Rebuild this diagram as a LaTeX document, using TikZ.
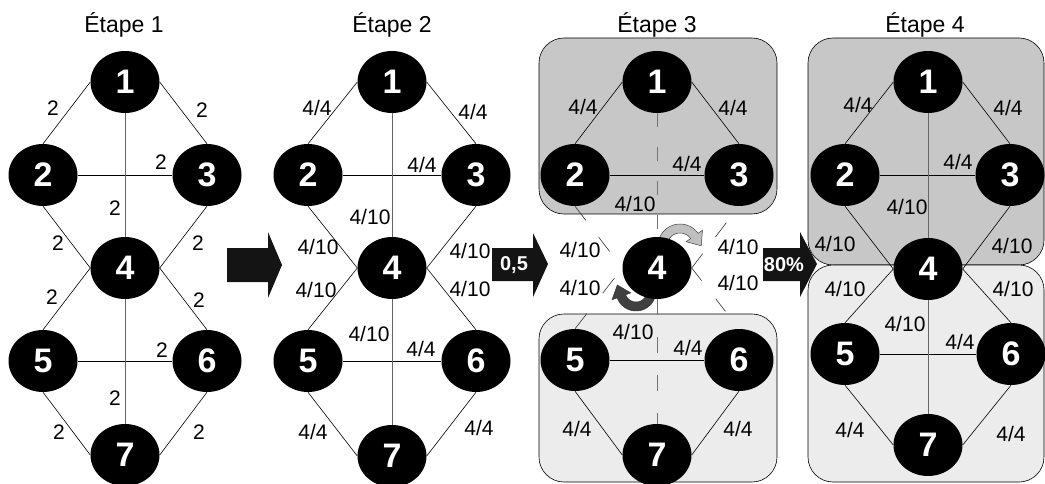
\documentclass[tikz,border=0pt]{standalone}
\usepackage{fontspec}
\setmainfont{Liberation Sans}
\usetikzlibrary{shapes.geometric,backgrounds}
\definecolor{topgray}{RGB}{199,199,199}
\definecolor{botgray}{RGB}{236,236,236}
\definecolor{darkarr}{RGB}{64,64,64}
\definecolor{lightarr}{RGB}{192,192,192}
\tikzset{
 vnode/.style={ellipse, fill=black, minimum width=69pt, minimum height=62pt, inner sep=0pt, text=white, font=\fontsize{34}{34}\selectfont\bfseries},
 edge/.style={draw=black, line width=0.6pt},
 vedge/.style={draw=black!60, line width=0.9pt},
 dedge/.style={draw=black!80, line width=0.6pt},
 vdedge/.style={draw=black!55, line width=0.9pt},
 lbl/.style={font=\fontsize{21}{21}\selectfont, inner sep=0pt},
 ttl/.style={font=\fontsize{23}{23}\selectfont, inner sep=0pt, anchor=base},
 grp/.style={rounded corners=25pt, draw=black, line width=0.6pt},
 blockarrow/.style={fill=black!92},
 arrtext/.style={text=white, font=\fontsize{20}{20}\selectfont\bfseries, inner sep=0pt},
}
\newcommand{\stageedges}[1]{%
 \draw[edge] (#11.west) -- (#12.north);
 \draw[edge] (#11.east) -- (#13.north);
 \draw[edge] (#12.east) -- (#13.west);
 \draw[edge] (#12.south) -- (#14.west);
 \draw[edge] (#13.south) -- (#14.east);
 \draw[edge] (#14.west) -- (#15.north);
 \draw[edge] (#14.east) -- (#16.north);
 \draw[edge] (#15.east) -- (#16.west);
 \draw[edge] (#15.south) -- (#17.west);
 \draw[edge] (#16.south) -- (#17.east);
 \draw[vedge] (#11.south) -- (#14.north);
 \draw[vedge] (#14.south) -- (#17.north);
}
\begin{document}
\begin{tikzpicture}[x=1pt,y=-1pt]
\clip (0,0) rectangle (1045,484);

% titles
\node[ttl] (t1) at (124,33) {Étape 1};
\node[ttl] (t2) at (392,33) {Étape 2};
\node[ttl] (t3) at (657,33) {Étape 3};
\node[ttl] (t4) at (925,33) {Étape 4};

% stage 1 nodes
\node[vnode] (a1) at (125,82) {1};
\node[vnode] (a2) at (43,175) {2};
\node[vnode] (a3) at (207,175) {3};
\node[vnode] (a4) at (125,268) {4};
\node[vnode] (a5) at (43,361) {5};
\node[vnode] (a6) at (207,361) {6};
\node[vnode] (a7) at (125,455) {7};
% stage 2 nodes
\node[vnode] (b1) at (392,82) {1};
\node[vnode] (b2) at (308,175) {2};
\node[vnode] (b3) at (476,175) {3};
\node[vnode] (b4) at (392,268) {4};
\node[vnode] (b5) at (308,361) {5};
\node[vnode] (b6) at (476,361) {6};
\node[vnode] (b7) at (392,456) {7};
% stage 3 nodes
\node[vnode] (c1) at (657,82) {1};
\node[vnode] (c2) at (575,175) {2};
\node[vnode] (c3) at (739,175) {3};
\node[vnode] (c4) at (657,268) {4};
\node[vnode] (c5) at (575,360) {5};
\node[vnode] (c6) at (739,360) {6};
\node[vnode] (c7) at (657,455) {7};
% stage 4 nodes
\node[vnode] (d1) at (928,82) {1};
\node[vnode] (d2) at (845,175) {2};
\node[vnode] (d3) at (1010,175) {3};
\node[vnode] (d4) at (928,269) {4};
\node[vnode] (d5) at (845,354) {5};
\node[vnode] (d6) at (1011,354) {6};
\node[vnode] (d7) at (928,445) {7};

% background: groups and rotation arrows
\begin{scope}[on background layer]
 \fill[white] (0,0) rectangle (1045,484);
 \draw[grp, fill=topgray] (539,38) rectangle (777,214);
 \draw[grp, fill=botgray] (539,314) rectangle (777,482);
 \draw[grp, fill=topgray] (808,38) rectangle (1044,265);
 \draw[grp, fill=botgray] (808,265) rectangle (1044,482);
 % light rotation arrow
 \filldraw[fill=lightarr, draw=black!75, line width=0.5pt]
   plot[domain=200:325, samples=25] ({680+22*cos(\x)},{246+22*sin(\x)})
   -- (702.5,230.2) -- (701.2,245.8) -- (686.1,241.7)
   -- plot[domain=325:200, samples=25] ({680+13*cos(\x)},{246+13*sin(\x)}) -- cycle;
 % dark rotation arrow
 \filldraw[fill=darkarr, draw=black!80, line width=0.5pt]
   plot[domain=10:160, samples=25] ({636+20*cos(\x)},{291+20*sin(\x)})
   -- (612.0,299.7) -- (617.3,285.0) -- (630.8,292.9)
   -- plot[domain=160:10, samples=25] ({636+11*cos(\x)},{291+11*sin(\x)}) -- cycle;
\end{scope}

% edges
\stageedges{a}
\stageedges{b}
\stageedges{d}
% stage 3 edges
\draw[edge] (c1.west) -- (c2.north);
\draw[edge] (c1.east) -- (c3.north);
\draw[edge] (c2.east) -- (c3.west);
\draw[edge] (c5.east) -- (c6.west);
\draw[edge] (c5.south) -- (c7.west);
\draw[edge] (c6.south) -- (c7.east);
\draw[dedge, dash pattern=on 18pt off 21pt] (c2.south) -- (c4.west);
\draw[dedge, dash pattern=on 18pt off 21pt] (c4.east) -- (c3.south);
\draw[dedge, dash pattern=on 19pt off 26pt] (c5.north) -- (c4.west);
\draw[dedge, dash pattern=on 16pt off 23pt] (c4.east) -- (c6.north);
\draw[vdedge, dash pattern=on 14pt off 20pt] (c1.south) -- (c4.north);
\draw[vdedge, dash pattern=on 16pt off 22pt] (c4.south) -- (c7.north);

% block arrows
\fill[blockarrow] (227,248) -- (268,248) -- (268,232) -- (282,265) -- (268,298) -- (268,282) -- (227,282) -- cycle;
\fill[blockarrow] (492,248) -- (533,248) -- (533,233) -- (548,264) -- (533,297) -- (533,281) -- (492,281) -- cycle;
\node[arrtext] (r1) at (514,265) {0,5};
\fill[blockarrow] (763,248) -- (800,248) -- (800,232) -- (817,264) -- (800,297) -- (800,281) -- (763,281) -- cycle;
\node[arrtext] (r2) at (784,265) {80\%};

% stage 1 labels
\node[lbl] (la1) at (53,108) {2};
\node[lbl] (la2) at (202,110) {2};
\node[lbl] (la3) at (161,162) {2};
\node[lbl] (la4) at (115,208) {2};
\node[lbl] (la5) at (58,243) {2};
\node[lbl] (la6) at (198,243) {2};
\node[lbl] (la7) at (52,297) {2};
\node[lbl] (la8) at (199,300) {2};
\node[lbl] (la9) at (162,350) {2};
\node[lbl] (la10) at (115,398) {2};
\node[lbl] (la11) at (59,432) {2};
\node[lbl] (la12) at (199,432) {2};
% stage 2 labels
\node[lbl] (lb1) at (317,108) {4/4};
\node[lbl] (lb2) at (473,112) {4/4};
\node[lbl] (lb3) at (422,165) {4/4};
\node[lbl] (lb4) at (370,217) {4/10};
\node[lbl] (lb5) at (318,247) {4/10};
\node[lbl] (lb6) at (470,251) {4/10};
\node[lbl] (lb7) at (316,290) {4/10};
\node[lbl] (lb8) at (470,289) {4/10};
\node[lbl] (lb9) at (369,334) {4/10};
\node[lbl] (lb10) at (421,349) {4/4};
\node[lbl] (lb11) at (313,432) {4/4};
\node[lbl] (lb12) at (479,428) {4/4};
% stage 3 labels
\node[lbl] (lc1) at (583,107) {4/4};
\node[lbl] (lc2) at (733,108) {4/4};
\node[lbl] (lc3) at (687,164) {4/4};
\node[lbl] (lc4) at (635,204) {4/10};
\node[lbl] (lc5) at (580,250) {4/10};
\node[lbl] (lc6) at (580,288) {4/10};
\node[lbl] (lc7) at (738,247) {4/10};
\node[lbl] (lc8) at (738,283) {4/10};
\node[lbl] (lc9) at (633,332) {4/10};
\node[lbl] (lc10) at (688,348) {4/4};
\node[lbl] (lc11) at (577,429) {4/4};
\node[lbl] (lc12) at (738,429) {4/4};
% stage 4 labels
\node[lbl] (ld1) at (858,105) {4/4};
\node[lbl] (ld2) at (1008,108) {4/4};
\node[lbl] (ld3) at (958,162) {4/4};
\node[lbl] (ld4) at (907,207) {4/10};
\node[lbl] (ld5) at (835,244) {4/10};
\node[lbl] (ld6) at (1012,246) {4/10};
\node[lbl] (ld7) at (845,289) {4/10};
\node[lbl] (ld8) at (1013,289) {4/10};
\node[lbl] (ld9) at (905,324) {4/10};
\node[lbl] (ld10) at (960,342) {4/4};
\node[lbl] (ld11) at (850,430) {4/4};
\node[lbl] (ld12) at (1011,434) {4/4};
\end{tikzpicture}
\end{document}
